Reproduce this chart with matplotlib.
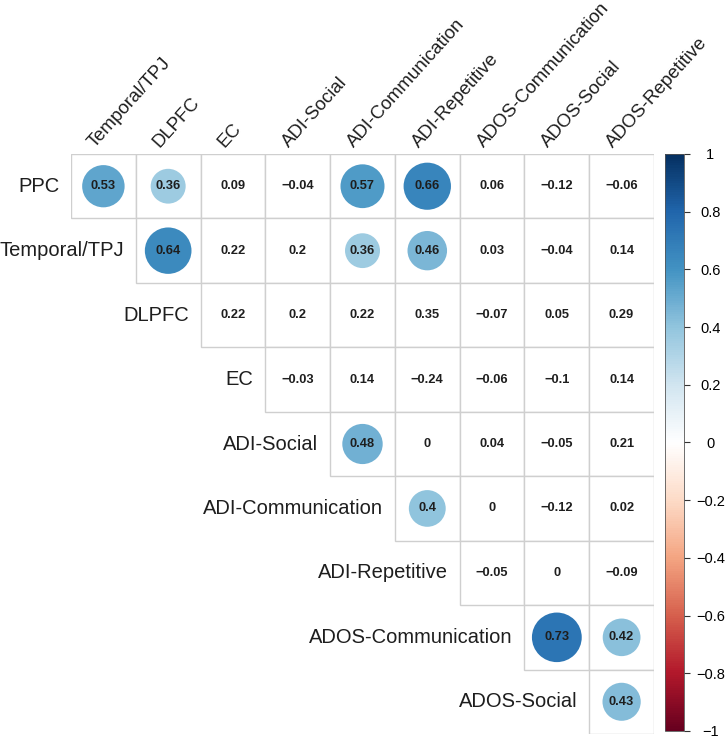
import numpy as np
import matplotlib
matplotlib.use("Agg")
import matplotlib.pyplot as plt
from matplotlib.colors import LinearSegmentedColormap, Normalize
from matplotlib.patches import Rectangle, Circle
from matplotlib.cm import ScalarMappable

plt.rcParams['font.family'] = ['Liberation Sans', 'DejaVu Sans']

row_labels = ["PPC", "Temporal/TPJ", "DLPFC", "EC", "ADI-Social", "ADI-Communication",
              "ADI-Repetitive", "ADOS-Communication", "ADOS-Social"]
col_labels = ["Temporal/TPJ", "DLPFC", "EC", "ADI-Social", "ADI-Communication",
              "ADI-Repetitive", "ADOS-Communication", "ADOS-Social", "ADOS-Repetitive"]

# each row starts at the column with the same index (upper triangle)
corr = [
    [0.53, 0.36, 0.09, -0.04, 0.57, 0.66, 0.06, -0.12, -0.06],
    [0.64, 0.22, 0.2, 0.36, 0.46, 0.03, -0.04, 0.14],
    [0.22, 0.2, 0.22, 0.35, -0.07, 0.05, 0.29],
    [-0.03, 0.14, -0.24, -0.06, -0.1, 0.14],
    [0.48, 0, 0.04, -0.05, 0.21],
    [0.4, 0, -0.12, 0.02],
    [-0.05, 0, -0.09],
    [0.73, 0.42],
    [0.43],
]
# significant cells get a circle
signif = [
    [1, 1, 0, 0, 1, 1, 0, 0, 0],
    [1, 0, 0, 1, 1, 0, 0, 0],
    [0, 0, 0, 0, 0, 0, 0],
    [0, 0, 0, 0, 0, 0],
    [1, 0, 0, 0, 0],
    [1, 0, 0, 0],
    [0, 0, 0],
    [1, 1],
    [1],
]
cbar_ticks = [-1, -0.8, -0.6, -0.4, -0.2, 0, 0.2, 0.4, 0.6, 0.8, 1]

cmap = LinearSegmentedColormap.from_list("rdbu", [
    "#67001F", "#B2182B", "#D6604D", "#F4A582", "#FDDBC7", "#FFFFFF",
    "#D1E5F0", "#92C5DE", "#4393C3", "#2166AC", "#053061"])
norm = Normalize(-1, 1)

W, H = 726, 743
fig = plt.figure(figsize=(W / 100, H / 100), dpi=100)
ax = fig.add_axes([71 / W, 1 - 734 / H, 583 / W, 580 / H])
ax.set_xlim(0, 9)
ax.set_ylim(9, 0)
ax.axis("off")

def fmt(v):
    return f"{v:g}".replace("-", "\u2212")

for i, (vals, sig) in enumerate(zip(corr, signif)):
    for k, (v, s) in enumerate(zip(vals, sig)):
        j = i + k
        ax.add_patch(Rectangle((j, i), 1, 1, facecolor="white", edgecolor="#cfcfcf", lw=1))
        if s:
            ax.add_patch(Circle((j + 0.5, i + 0.5), 0.45 * np.sqrt(abs(v)),
                                facecolor=cmap(norm(v)), edgecolor="none"))
        ax.text(j + 0.5, i + 0.5, fmt(v), ha="center", va="center",
                fontsize=9.3, fontweight="bold", color="#1e1e1e")
    ax.text(i - 0.18, i + 0.5, row_labels[i], ha="right", va="center",
            fontsize=14.5, color="#1e1e1e")

for j, lab in enumerate(col_labels):
    ax.text(j + 0.37, -0.09, lab, rotation=48, rotation_mode="anchor",
            ha="left", va="baseline", fontsize=13.4, color="#1e1e1e")

cax = fig.add_axes([665 / W, 1 - 731 / H, 19 / W, 577 / H])
sm = ScalarMappable(norm=norm, cmap=cmap)
cb = fig.colorbar(sm, cax=cax, ticks=cbar_ticks)
cb.outline.set_edgecolor("#555555")
cb.outline.set_linewidth(0.6)
cb.ax.set_yticklabels([fmt(t) for t in cbar_ticks])
cb.ax.tick_params(length=4, width=0.8, pad=15, labelsize=10.5, color="#333333")
for t in cb.ax.get_yticklabels():
    t.set_horizontalalignment("center")

fig.savefig("out.png", dpi=100)
